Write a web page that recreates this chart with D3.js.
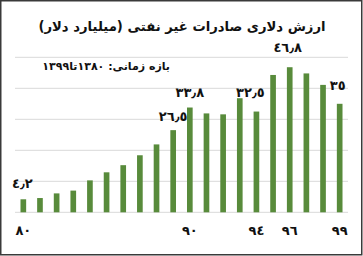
<!DOCTYPE html>
<html><head><meta charset="utf-8">
<script src="https://cdn.jsdelivr.net/npm/d3@7"></script>
<style>
html,body{margin:0;padding:0;background:#fff;}
svg{display:block;}
text{font-family:"DejaVu Sans",sans-serif;font-weight:bold;fill:#111;}
</style></head>
<body><svg id="c" width="363" height="256"></svg>
<script>
const years = [1380,1381,1382,1383,1384,1385,1386,1387,1388,1389,1390,1391,1392,1393,1394,1395,1396,1397,1398,1399];
const values = [4.2,4.6,6.1,7.0,10.3,12.9,15.2,18.4,21.9,26.5,33.8,31.9,31.6,36.8,32.5,44.3,46.8,44.8,41.1,35.0];
const tickYears = [1380,1390,1394,1396,1399];
const tickLabels = ["٨٠","٩٠","٩٤","٩٦","٩٩"];
const labelYears = [1380,1389,1390,1394,1396,1399];
const labelTexts = ["٤٫٢","٢٦٫٥","٣٣٫٨","٣٢٫٥","٤٦٫٨","٣٥"];
const gridValues = [0,10,20,30,40,50];
const title = "ارزش دلاری صادرات غیر نفتی (میلیارد دلار)";
const subtitle = "بازه زمانی: ١٣٨٠تا١٣٩٩";

// annotation placement tweaks (layout, not data)
const labelDx = [-1,0,0,-6,-2,-2];
const labelDy = [-11,-9,-11,-15,-15,-14];

const svg = d3.select("#c");
const x = d3.scaleBand().domain(years).range([15,348]).paddingInner(0.66).paddingOuter(0.33);
const y = d3.scaleLinear().domain([0,50]).range([212.3,57.3]);

svg.append("rect").attr("x",0.75).attr("y",0.75).attr("width",361).attr("height",254)
  .attr("fill","#fff").attr("stroke","#3a3a3a").attr("stroke-width",1.5);

svg.append("g").selectAll("line").data(gridValues).join("line")
  .attr("x1",15).attr("x2",348).attr("y1",d=>y(d)).attr("y2",d=>y(d))
  .attr("stroke","#d9d9d9").attr("stroke-width",1);

svg.append("g").selectAll("rect").data(values).join("rect")
  .attr("x",(d,i)=>x(years[i])).attr("width",x.bandwidth())
  .attr("y",d=>y(d)).attr("height",d=>y(0)-y(d))
  .attr("fill","#588b3b");

const xAxis = d3.axisBottom(x).tickValues(tickYears)
  .tickFormat(d=>tickLabels[tickYears.indexOf(d)]).tickSize(0).tickPadding(0);
const gx = svg.append("g").attr("transform","translate(0,226)").call(xAxis);
gx.select(".domain").remove();
gx.selectAll("text").attr("font-size",13).attr("font-family","DejaVu Sans").attr("font-weight","bold").attr("fill","#111").attr("dy","0.71em");

svg.append("g").selectAll("text").data(labelYears).join("text")
  .attr("x",(d,i)=>x(d)+x.bandwidth()/2+labelDx[i])
  .attr("y",(d,i)=>y(values[years.indexOf(d)])+labelDy[i])
  .attr("text-anchor","middle").attr("font-size",13)
  .text((d,i)=>labelTexts[i]);

svg.append("text").attr("x",182).attr("y",31).attr("text-anchor","middle")
  .attr("font-size",13.2).attr("direction","rtl")
  .text(title);

svg.append("text").attr("x",170).attr("y",70).attr("text-anchor","start")
  .attr("font-size",11).attr("direction","rtl")
  .text(subtitle);
</script></body></html>
